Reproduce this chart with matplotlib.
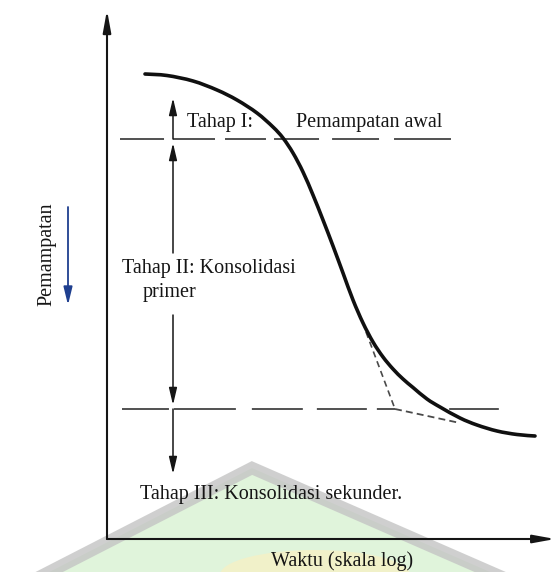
import matplotlib
matplotlib.use("Agg")
import matplotlib.pyplot as plt
from matplotlib.patches import Polygon, Ellipse, PathPatch, FancyArrowPatch
from matplotlib.path import Path

plt.rcParams['font.family'] = ['Liberation Serif', 'DejaVu Serif']
plt.rcParams['lines.scale_dashes'] = False

# ---- data (log time, settlement; settlement grows downward) ----
log_time = [0.38, 0.60, 0.86, 1.10, 1.30, 1.50, 1.66, 1.76, 1.86, 1.96, 2.06, 2.16, 2.26,
            2.36, 2.46, 2.56, 2.66, 2.76, 2.86, 2.96, 3.06, 3.20, 3.33, 3.53, 3.70, 3.90,
            4.10, 4.28]
settlement = [0.64, 0.655, 0.71, 0.80, 0.90, 1.03, 1.17, 1.28, 1.43, 1.62, 1.85, 2.10, 2.36,
              2.63, 2.90, 3.13, 3.32, 3.47, 3.59, 3.69, 3.775, 3.89, 3.97, 4.08, 4.15, 4.21,
              4.245, 4.26]

level_initial = 1.29      # end of initial compression
level_primary = 3.99      # end of primary consolidation (100 %)
upper_line_t = [0.13, 3.44]
lower_line_t = [0.15, 2.88]
lower_line_t2 = [3.43, 3.91]

tangent_primary_t = [2.59, 2.88]
tangent_primary_s = [3.22, 3.99]
tangent_secondary_t = [2.88, 3.53]
tangent_secondary_s = [3.99, 4.13]

stage_arrow_t = 0.66
stage_arrows = [(1.29, 0.88), (2.43, 1.33), (3.05, 3.95), (3.99, 4.64)]  # (from, to)

label_stage1a = "Tahap I:"
label_stage1b = "Pemampatan awal"
label_stage2 = "Tahap II: Konsolidasi"
label_stage2b = "primer"
label_stage3 = "Tahap III: Konsolidasi sekunder."
xlabel = "Waktu (skala log)"
ylabel = "Pemampatan"

W, H = 553, 572
fig = plt.figure(figsize=(W / 100, H / 100), dpi=100)
fig.patch.set_facecolor('white')

# faint watermark from the scanned source
fig.add_artist(Polygon([(252 / W, 1 - 468 / H), (-40 / W, -0.08), (595 / W, -0.08)], closed=True,
                       transform=fig.transFigure, facecolor='#d9f2d3', edgecolor='#c4c4c4',
                       lw=9, alpha=0.8, zorder=0))
fig.add_artist(Ellipse((315 / W, 1 - 575 / H), 190 / W, 50 / H, transform=fig.transFigure,
                       facecolor='#f3f1c8', edgecolor='none', alpha=0.9, zorder=0))

ax = fig.add_axes([107 / W, 1 - 539 / H, (553 - 107) / W, (539 - 10) / H])
ax.set_facecolor('none')
ax.set_xlim(0, 4.46)
ax.set_ylim(5.29, 0)
for sp in ax.spines.values():
    sp.set_visible(False)
ax.set_xticks([])
ax.set_yticks([])

ink = '#151515'
ax_arrow = dict(arrowstyle='-|>,head_length=1.1,head_width=0.2', mutation_scale=12,
                lw=1.5, color=ink, shrinkA=0, shrinkB=0)
ax.annotate('', xy=(0, 1.0), xytext=(0, 0), xycoords='axes fraction',
            arrowprops=ax_arrow, annotation_clip=False)
ax.annotate('', xy=(1.005, 0), xytext=(0, 0), xycoords='axes fraction',
            arrowprops=ax_arrow, annotation_clip=False)

# main curve: smooth Catmull-Rom path through the read points
pts = list(zip(log_time, settlement))
verts = [pts[0]]
codes = [Path.MOVETO]
n = len(pts)
for i in range(n - 1):
    p0 = pts[i - 1] if i > 0 else pts[i]
    p1 = pts[i]
    p2 = pts[i + 1]
    p3 = pts[i + 2] if i + 2 < n else pts[i + 1]
    c1 = (p1[0] + (p2[0] - p0[0]) / 6, p1[1] + (p2[1] - p0[1]) / 6)
    c2 = (p2[0] - (p3[0] - p1[0]) / 6, p2[1] - (p3[1] - p1[1]) / 6)
    verts += [c1, c2, p2]
    codes += [Path.CURVE4] * 3
ax.add_patch(PathPatch(Path(verts, codes), facecolor='none', edgecolor='#101010',
                       lw=2.6, capstyle='round', joinstyle='round', zorder=5))

# horizontal reference lines (hand-drawn dash rhythm of the original)
ax.plot(upper_line_t, [level_initial] * 2, color='#333333', lw=1.2,
        dashes=(31.7, 6.5, 30.2, 7.2, 29.5, 5.8, 32.4, 9.4, 33.8, 10.8, 41, 4), clip_on=False)
ax.plot(lower_line_t, [level_primary] * 2, color='#333333', lw=1.2,
        dashes=(33.8, 3.6, 44.6, 11.5, 36.7, 10.1, 36, 7.2, 14, 2), clip_on=False)
ax.plot(lower_line_t2, [level_primary] * 2, color='#333333', lw=1.2, clip_on=False)

# tangent construction
ax.plot(tangent_primary_t, tangent_primary_s, color='#4a4a4a', lw=1.2, dashes=(4.5, 3))
ax.plot(tangent_secondary_t, tangent_secondary_s, color='#4a4a4a', lw=1.3, dashes=(5, 3))

# stage arrows
st_arrow = dict(arrowstyle='-|>,head_length=0.85,head_width=0.2', mutation_scale=12,
                lw=1.1, color=ink, shrinkA=0, shrinkB=0)
for s0, s1 in stage_arrows:
    ax.annotate('', xy=(stage_arrow_t, s1), xytext=(stage_arrow_t, s0),
                arrowprops=st_arrow, annotation_clip=False)

fs = 14.5
ax.text(0.80, 1.12, label_stage1a, fontsize=fs, color=ink, ha='left', va='center')
ax.text(1.89, 1.12, label_stage1b, fontsize=fs, color=ink, ha='left', va='center')
ax.text(0.15, 2.58, label_stage2, fontsize=fs, color=ink, ha='left', va='center',
        clip_on=False)
ax.text(0.36, 2.83, label_stage2b, fontsize=fs, color=ink, ha='left', va='center')
ax.text(0.33, 4.85, label_stage3, fontsize=fs, color=ink, ha='left', va='center')

fig.text(342 / W, 1 - 561 / H, xlabel, fontsize=fs, color=ink, ha='center', va='center')
fig.text(47 / W, 1 - 254 / H, ylabel, fontsize=fs, color=ink, ha='center', va='center',
         rotation=90)
# downward arrow beside the y label
fig.add_artist(FancyArrowPatch(
    (68 / W, 1 - 207 / H), (68 / W, 1 - 305 / H), transform=fig.transFigure,
    arrowstyle='-|>,head_length=0.9,head_width=0.22', mutation_scale=12,
    lw=1.3, color='#1f3f8f', shrinkA=0, shrinkB=0))

fig.savefig('out.png', dpi=100, facecolor='white')
